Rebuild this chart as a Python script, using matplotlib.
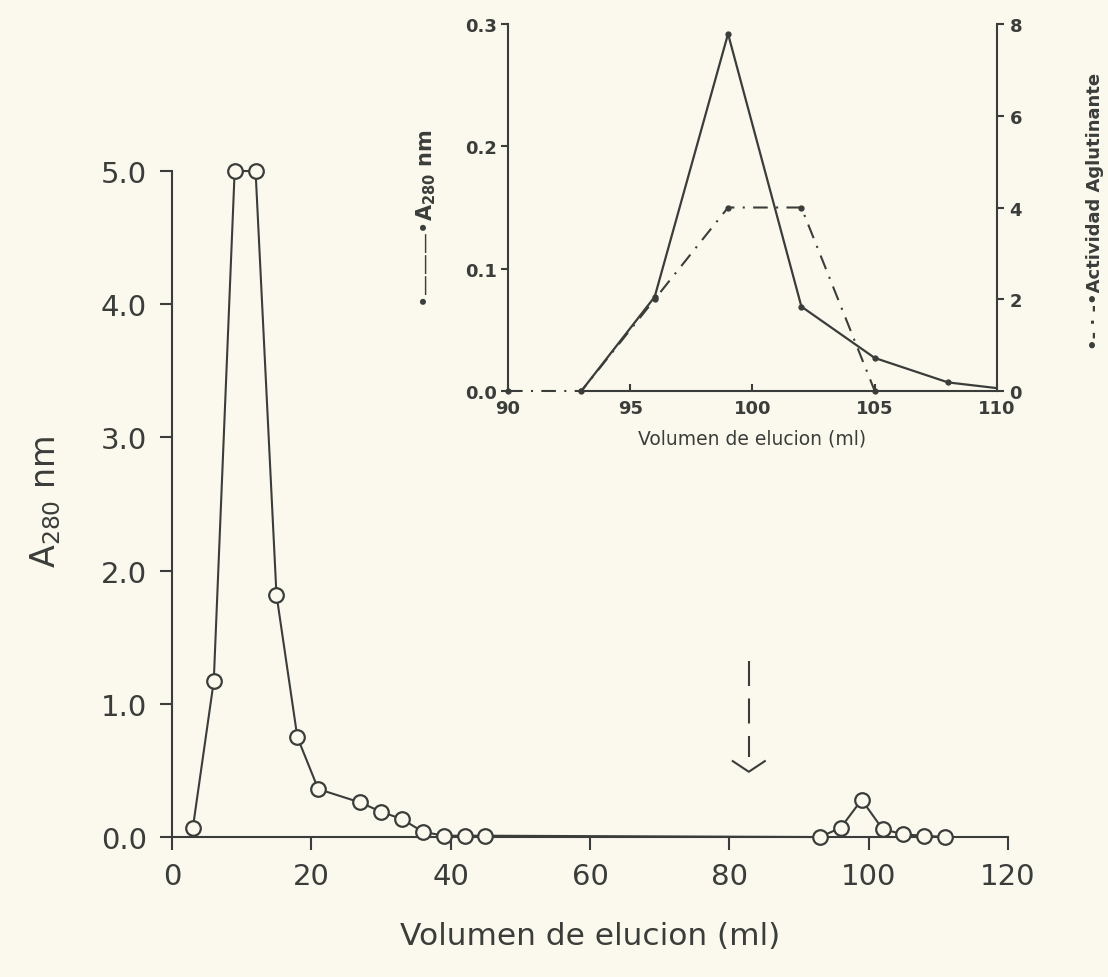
import numpy as np
import matplotlib.pyplot as plt

# Colores del papel escaneado
fondo = "#fbf9ee"
tinta = "#3a3d39"

# Cromatografia principal (A280)
vol_main = [3, 6, 9, 12, 15, 18, 21, 27, 30, 33, 36, 39, 42, 45,
            93, 96, 99, 102, 105, 108, 111]
abs_main = [0.07, 1.17, 5.0, 5.0, 1.82, 0.75, 0.36, 0.26, 0.19, 0.135, 0.04, 0.01, 0.01, 0.01,
            0.0, 0.07, 0.28, 0.06, 0.02, 0.01, 0.0]
xticks_main = [0, 20, 40, 60, 80, 100, 120]
yticks_main = [0.0, 1.0, 2.0, 3.0, 4.0, 5.0]

# Flecha (inicio de la elucion)
flecha_x = 82.8
flecha_y = [1.32, 0.60]
flecha_punta = 0.49

# Inset: pico de 93-111 ml
vol_ins = [93, 96, 99, 102, 105, 108, 111]
abs_ins = [0.0, 0.077, 0.292, 0.069, 0.027, 0.007, 0.0]
vol_act = [90, 93, 96, 99, 102, 105]
actividad = [0, 0, 2, 4, 4, 0]
xticks_ins = [90, 95, 100, 105, 110]
yticks_ins = [0.0, 0.1, 0.2, 0.3]
yticks_act = [0, 2, 4, 6, 8]

plt.rcParams['font.family'] = ['DejaVu Sans']
plt.rcParams['text.color'] = tinta
plt.rcParams['axes.labelcolor'] = tinta
plt.rcParams['axes.edgecolor'] = tinta
plt.rcParams['xtick.color'] = tinta
plt.rcParams['ytick.color'] = tinta
plt.rcParams['mathtext.default'] = 'regular'

fig = plt.figure(figsize=(11.08, 9.78), dpi=100, facecolor=fondo)

# ---- grafico principal ----
ax = fig.add_axes([0.1552, 0.1431, 0.7545, 0.681])
ax.set_facecolor("none")
ax.plot(vol_main, abs_main, color=tinta, lw=1.5, marker='o', ms=10.5,
        mfc=fondo, mec=tinta, mew=1.6, clip_on=False, zorder=3)

# flecha discontinua
ax.plot([flecha_x, flecha_x], flecha_y, color=tinta, lw=1.5, dashes=(12, 6))
ax.plot([flecha_x - 2.3, flecha_x, flecha_x + 2.3],
        [flecha_punta + 0.08, flecha_punta, flecha_punta + 0.08], color=tinta, lw=1.5)

ax.set_xlim(0, 120)
ax.set_ylim(0, 5)
ax.set_xticks(xticks_main)
ax.set_yticks(yticks_main)
ax.set_yticklabels([f"{v:.1f}" for v in yticks_main])
for s in ['top', 'right']:
    ax.spines[s].set_visible(False)
ax.spines['left'].set_linewidth(1.5)
ax.spines['bottom'].set_linewidth(1.5)
ax.tick_params(axis='both', labelsize=21, width=1.5, length=9, pad=9, direction='out')
ax.set_xlabel("Volumen de elucion (ml)", fontsize=22.5, labelpad=22)
ax.set_ylabel("$A_{280}$ nm", fontsize=24)
ax.yaxis.set_label_coords(-0.13, 0.505)

# ---- inset ----
ax2 = fig.add_axes([0.4585, 0.5992, 0.4413, 0.3752])
ax2.set_facecolor("none")
ax2.plot(vol_ins, abs_ins, color=tinta, lw=1.6, marker='o', ms=3.5, clip_on=True)
ax2.set_xlim(90, 110)
ax2.set_ylim(0, 0.3)
ax2.set_xticks(xticks_ins)
ax2.set_yticks(yticks_ins)
ax2.set_yticklabels([f"{v:.1f}" for v in yticks_ins])
ax2.spines['top'].set_visible(False)
ax2.spines['right'].set_visible(False)
ax2.spines['bottom'].set_bounds(93, 110)
for s in ['left', 'bottom']:
    ax2.spines[s].set_linewidth(1.5)
ax2.tick_params(axis='y', labelsize=13, width=1.5, length=5, pad=3, direction='out')
ax2.tick_params(axis='x', labelsize=13, width=1.5, length=5, pad=6, direction='in')
for t in ax2.get_xticklabels() + ax2.get_yticklabels():
    t.set_fontweight('bold')
ax2.set_xlabel("Volumen de elucion (ml)", fontsize=13.5, labelpad=8)

ax3 = ax2.twinx()
ax3.plot(vol_act, actividad, color=tinta, lw=1.5, linestyle=(0, (7, 4, 1, 4)),
         marker='o', ms=3.5, clip_on=False)
ax3.set_ylim(0, 8)
ax3.set_yticks(yticks_act)
for s in ['top', 'left', 'bottom']:
    ax3.spines[s].set_visible(False)
ax3.spines['right'].set_linewidth(1.5)
ax3.tick_params(axis='y', labelsize=13, width=1.5, length=5, pad=4, direction='out')
for t in ax3.get_yticklabels():
    t.set_fontweight('bold')

fig.text(0.385, 0.777, "•———•$A_{280}$ nm", rotation=90, fontsize=15,
         fontweight='bold', ha='center', va='center')
fig.text(0.988, 0.784, "•- · -•Actividad Aglutinante", rotation=90, fontsize=13,
         fontweight='bold', ha='center', va='center')

fig.savefig("out.png", dpi=100, facecolor=fondo)
